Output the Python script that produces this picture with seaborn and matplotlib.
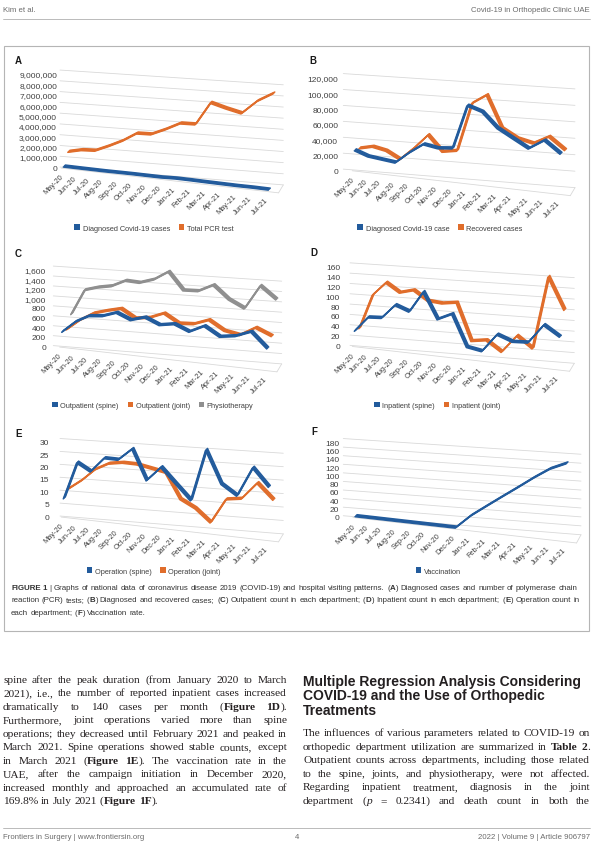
import numpy as np
import pandas as pd
import seaborn as sns
import matplotlib
matplotlib.use("Agg")
import matplotlib.pyplot as plt
from matplotlib.transforms import Affine2D, blended_transform_factory
from matplotlib.patches import Patch, Rectangle, ConnectionPatch
from matplotlib.lines import Line2D

months = ["May-20", "Jun-20", "Jul-20", "Aug-20", "Sep-20", "Oct-20", "Nov-20", "Dec-20",
          "Jan-21", "Feb-21", "Mar-21", "Apr-21", "May-21", "Jun-21", "Jul-21"]

# values (front plane of the 3D chart)
diagnosed = [25000, 19000, 17000, 15000, 30000, 43000, 40000, 42000,
             100000, 94000, 75000, 64000, 53000, 66000, 51000]
pcr_tests = [1250000, 1560000, 1650000, 2240000, 2910000, 3770000, 3840000, 4480000,
             5220000, 5290000, 7540000, 7170000, 6860000, 8220000, 9130000]
recovered = [24800, 29000, 25700, 16500, 33100, 52400, 32800, 36300,
             100200, 113300, 72100, 61300, 57100, 68200, 53200]
outpatient_spine = [292, 532, 683, 715, 818, 698, 788, 663, 718, 594, 748, 563, 613, 741, 432]
outpatient_joint = [299, 525, 697, 784, 859, 691, 739, 864, 690, 712, 832, 646, 592, 783, 647]
physiotherapy = [577, 1109, 1197, 1257, 1402, 1394, 1497, 1692, 1340, 1359, 1520, 1258, 1107, 1617, 1371]
inpatient_spine = [29, 59, 61, 90, 80, 123, 71, 85, 22, 17, 54, 43, 45, 84, 64]
inpatient_joint = [30, 100, 128, 111, 119, 101, 99, 104, 30, 35, 15, 51, 29, 177, 114]
operation_spine = [7, 22, 19, 25, 25, 30, 18, 24, 18, 12, 33, 20, 16, 28, 21]
operation_joint = [10, 14, 19, 22, 23, 23, 22, 21, 11, 8, 3, 13, 14, 21, 15]
vaccination = [0, 0, 0, 0, 0, 0, 0, 0, 33, 60, 87, 114, 142, 168, 186]

BLUE, ORANGE, GREY = "#225b9c", "#e06d2b", "#8f8f8f"
TXT = "#404040"

sns.set_theme(style="white")
plt.rcParams["font.family"] = ["Liberation Sans", "DejaVu Sans"]

W, H = 600, 845
fig = plt.figure(figsize=(W / 100, H / 100), dpi=100)
fig.patch.set_facecolor("white")
renderer = fig.canvas.get_renderer()


def fx(x):
    return x / W


def fy(y):
    return 1 - y / H


# fake 3D look of the Excel charts
KF = 0.114            # slope of the data plane
K0, KT = 0.08, 0.066  # slope of back gridlines (bottom / top)
SB = 1.04             # back wall vertical stretch
CURVE = 0.008         # perspective spread of the months
DEPTH = (4.5, 2.0)    # shift of each series further back
RIB = (2.0, 2.0)      # ribbon thickness


def fwd(v):
    v = np.asarray(v, dtype=float)
    return v + CURVE * v ** 2


def inv(u):
    u = np.asarray(u, dtype=float)
    return (-1 + np.sqrt(np.maximum(1 + 4 * CURVE * u, 0))) / (2 * CURVE)


def panel(letter, letter_xy, box, vmax, step, series, colors, names, lab_pad, wall_l, legend_xy):
    x0, x1, y0, yt = box
    ax = fig.add_axes([fx(x0), fy(y0), (x1 - x0) / W, (y0 - yt) / H])
    X0, Y0 = ax.bbox.x0, ax.bbox.y0

    def sk(k, sy=1.0, dx=0.0, dy=0.0):
        return (Affine2D().translate(-X0, -Y0).scale(1, sy)
                .skew(0, np.arctan(-k)).translate(X0 + dx, Y0 + dy))

    idx = np.arange(len(months))
    for d, (vals, col) in enumerate(zip(series, colors)):
        df = pd.DataFrame({"month": idx, "value": vals})
        for t in np.linspace(0, 1, 4):
            sns.lineplot(data=df, x="month", y="value", ax=ax, color=col,
                         linewidth=1.1, legend=False)
            ln = ax.lines[-1]
            ln.set_transform(ax.transData + sk(KF, dx=d * DEPTH[0] + t * RIB[0],
                                                dy=d * DEPTH[1] + t * RIB[1]))
            ln.set_clip_on(False)
            ln.set_zorder(5 - d)

    ax.set_xscale("function", functions=(fwd, inv))
    ax.set_xlim(0, len(months) - 1)
    ax.set_ylim(0, vmax)
    ax.set_xlabel("")
    ax.set_ylabel("")
    ax.set_xticks([])
    ticks = np.arange(0, vmax + step / 2, step)
    ax.set_yticks(ticks)
    ax.set_yticklabels([f"{int(v):,}" for v in ticks])
    ax.tick_params(axis="y", length=0, pad=lab_pad * 0.72, labelsize=6.0, labelcolor=TXT)
    for s in ax.spines.values():
        s.set_visible(False)
    ax.patch.set_visible(False)
    ax.grid(False)

    # back wall gridlines and floor
    bt = blended_transform_factory(ax.transAxes, ax.transData)
    wr = 1 + 15 / (x1 - x0)
    for v in ticks:
        k = K0 + (KT - K0) * v / vmax
        ax.plot([wall_l / (x1 - x0), wr], [v, v], transform=bt + sk(k, sy=SB),
                color="#d9d9d9", lw=0.6, clip_on=False, zorder=0)
    ax.plot([-0.01, 1.05], [0, 0], transform=bt + sk(KF, dy=-1.0),
            color="#d9d9d9", lw=0.6, clip_on=False, zorder=0)
    con = ConnectionPatch(xyA=(wr, 0), coordsA=bt + sk(K0, sy=SB),
                          xyB=(1.05, 0), coordsB=bt + sk(KF, dy=-1.0),
                          color="#d9d9d9", lw=0.6)
    ax.add_artist(con)

    for i, m in enumerate(months):
        ax.text(i, 0, m, transform=ax.transData + sk(KF, dx=-1.0, dy=-8.0),
                rotation=45, rotation_mode="anchor", ha="right", va="center",
                fontsize=5.3, color=TXT, clip_on=False)

    handles = [Patch(facecolor=c, edgecolor="none", label=n) for c, n in zip(colors, names)]
    fig.legend(handles=handles, loc="center", bbox_to_anchor=(fx(legend_xy[0]), fy(legend_xy[1])),
               ncol=len(handles), frameon=False, fontsize=5.3, handlelength=0.75,
               handleheight=0.75, handletextpad=0.35, columnspacing=1.2,
               labelcolor=TXT, borderpad=0, borderaxespad=0)
    fig.text(fx(letter_xy[0]), fy(letter_xy[1]), letter, fontsize=7, fontweight="bold",
             va="center", color="#1a1a1a")
    return ax


panel("A", (15, 61), (63.3, 268.3, 168.3, 75), 9000000, 1000000,
      [diagnosed, pcr_tests], [BLUE, ORANGE], ["Diagnosed Covid-19 cases", "Total PCR test"],
      6.3, -3.3, (154, 229))
panel("B", (309, 61), (354.3, 560, 171, 79), 120000, 20000,
      [diagnosed, recovered], [BLUE, ORANGE], ["Diagnosed Covid-19 case", "Recovered cases"],
      16, -11, (440, 229))
panel("C", (15, 254), (61.7, 266.7, 347.3, 270.7), 1600, 200,
      [outpatient_spine, outpatient_joint, physiotherapy], [BLUE, ORANGE, GREY],
      ["Outpatient (spine)", "Outpatient (joint)", "Physiotherapy"],
      15.7, -8.4, (153, 406.7))
panel("D", (310, 253), (354.3, 559.3, 346.7, 267.3), 160, 20,
      [inpatient_spine, inpatient_joint], [BLUE, ORANGE], ["Inpatient (spine)", "Inpatient (joint)"],
      14.3, -4.3, (437, 406.7))
panel("E", (15, 434), (63.3, 268.3, 517.3, 442.7), 30, 5,
      [operation_spine, operation_joint], [BLUE, ORANGE], ["Operation (spine)", "Operation (joint)"],
      14, -3.3, (153.7, 572))
panel("F", (311, 432), (355, 566, 517.7, 443.3), 180, 20,
      [vaccination], [BLUE], ["Vaccination"],
      15.7, -11.7, (438.5, 572))

# ---- page furniture ----
fig.add_artist(Rectangle((fx(4), fy(632)), 585 / W, 585 / H, transform=fig.transFigure,
                         fill=False, edgecolor="#b5b5b5", lw=0.8))
fig.add_artist(Line2D([fx(3), fx(590)], [fy(19.5), fy(19.5)], color="#b0b0b0", lw=0.6))
fig.add_artist(Line2D([fx(3), fx(590)], [fy(829), fy(829)], color="#b0b0b0", lw=0.6))
fig.text(fx(3), fy(10), "Kim et al.", fontsize=5.6, color="#6b6b6b", va="center")
fig.text(fx(590), fy(10), "Covid-19 in Orthopedic Clinic UAE", fontsize=5.6, color="#6b6b6b",
         va="center", ha="right")
fig.text(fx(3), fy(838), "Frontiers in Surgery | www.frontiersin.org", fontsize=5.6,
         color="#6b6b6b", va="center")
fig.text(fx(297), fy(838), "4", fontsize=5.6, color="#6b6b6b", va="center", ha="center")
fig.text(fx(590), fy(838), "2022 | Volume 9 | Article 906797", fontsize=5.6, color="#6b6b6b",
         va="center", ha="right")

STY = {"n": {}, "b": {"fontweight": "bold"}, "i": {"fontstyle": "italic"}}


def parse(line):
    segs, buf, style, i = [], "", "n", 0
    while i < len(line):
        if line.startswith("**", i):
            if buf:
                segs.append((buf, style))
                buf = ""
            style = "n" if style == "b" else "b"
            i += 2
            continue
        if line[i] == "_":
            if buf:
                segs.append((buf, style))
                buf = ""
            style = "n" if style == "i" else "i"
            i += 1
            continue
        buf += line[i]
        i += 1
    if buf:
        segs.append((buf, style))
    words = [[]]
    for txt, st in segs:
        for j, p in enumerate(txt.split(" ")):
            if j > 0:
                words.append([])
            if p:
                words[-1].append((p, st))
    return [w for w in words if w]


def width(s, size, family, st="n"):
    t = fig.text(0, 0, s, fontsize=size, family=family, **STY[st])
    w = t.get_window_extent(renderer).width
    t.remove()
    return w


def natural(line, size, family):
    words = parse(line)
    tot = sum(width(p, size, family, st) for w in words for p, st in w)
    sp = width("a a", size, family) - width("aa", size, family)
    return tot + sp * (len(words) - 1)


def draw_line(line, xl, xr, y, size, family, color, justify):
    words = parse(line)
    ws = [[width(p, size, family, st) for p, st in w] for w in words]
    tot = sum(sum(a) for a in ws)
    if justify and len(words) > 1:
        gap = (xr - xl - tot) / (len(words) - 1)
    else:
        gap = width("a a", size, family) - width("aa", size, family)
    x = xl
    for w, wd in zip(words, ws):
        for (p, st), a in zip(w, wd):
            fig.text(fx(x), fy(y), p, fontsize=size, family=family, color=color,
                     va="baseline", ha="left", **STY[st])
            x += a
        x += gap


caption = [
    "**FIGURE 1** | Graphs of national data of coronavirus disease 2019 (COVID-19) and hospital visiting patterns. (**A**) Diagnosed cases and number of polymerase chain",
    "reaction (PCR) tests; (**B**) Diagnosed and recovered cases; (**C**) Outpatient count in each department; (**D**) Inpatient count in each department; (**E**) Operation count in",
    "each department; (**F**) Vaccination rate.",
]
sans = ["Liberation Sans", "DejaVu Sans"]
csize = 6.0 * 572 / natural(caption[0], 6.0, sans)
for k, line in enumerate(caption):
    draw_line(line, 11, 583, 590 + 12.5 * k, csize, sans, "#333333", False)

left_col = [
    "spine after the peak duration (from January 2020 to March",
    "2021), i.e., the number of reported inpatient cases increased",
    "dramatically to 140 cases per month (**Figure 1D**).",
    "Furthermore, joint operations varied more than spine",
    "operations; they decreased until February 2021 and peaked in",
    "March 2021. Spine operations showed stable counts, except",
    "in March 2021 (**Figure 1E**). The vaccination rate in the",
    "UAE, after the campaign initiation in December 2020,",
    "increased monthly and approached an accumulated rate of",
    "169.8% in July 2021 (**Figure 1F**).",
]
right_col = [
    "The influences of various parameters related to COVID-19 on",
    "orthopedic department utilization are summarized in **Table 2**.",
    "Outpatient counts across departments, including those related",
    "to the spine, joints, and physiotherapy, were not affected.",
    "Regarding inpatient treatment, diagnosis in the joint",
    "department (_p_ = 0.2341) and death count in both the",
]
heading = [
    "Multiple Regression Analysis Considering",
    "COVID-19 and the Use of Orthopedic",
    "Treatments",
]
serif = ["Liberation Serif", "DejaVu Serif"]
ratio = max([natural(l, 10, serif) / 284 for l in left_col[:-1]] +
            [natural(l, 10, serif) / 287 for l in right_col])
bsize = 10 / ratio * 0.99
for k, line in enumerate(left_col):
    draw_line(line, 3, 287, 683 + 13.45 * k, bsize, serif, "#231f20", k < len(left_col) - 1)
for k, line in enumerate(right_col):
    draw_line(line, 303, 590, 736.5 + 13.45 * k, bsize, serif, "#231f20", True)

hsize = 9 * 277 / natural("**" + heading[0] + "**", 9, sans)
for k, line in enumerate(heading):
    fig.text(fx(303), fy(686 + 14.5 * k), line, fontsize=hsize, family=sans,
             fontweight="bold", color="#231f20", va="baseline")

fig.savefig("out.png", dpi=100)
